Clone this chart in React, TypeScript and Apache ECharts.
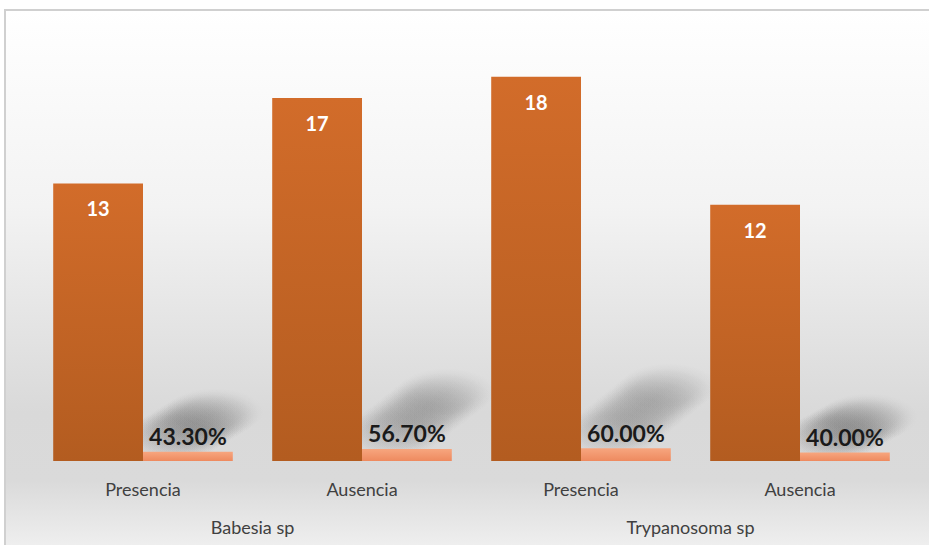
import React, { useEffect, useRef } from "react";
import * as echarts from "echarts";

const categories = ["Presencia", "Ausencia", "Presencia", "Ausencia"];
const groups = ["Babesia sp", "Trypanosoma sp"];
const counts = [13, 17, 18, 12];
const percents = [0.433, 0.567, 0.6, 0.4];

const FONT = "Lato, 'Open Sans', sans-serif";

export default function App() {
  const ref = useRef<HTMLDivElement>(null);
  useEffect(() => {
    const chart = echarts.init(ref.current!, undefined, { renderer: "svg" });
    const option: any = {
      animation: false,
      textStyle: { fontFamily: FONT },
      graphic: [
        {
          type: "rect",
          z: -10,
          silent: true,
          shape: { x: 5, y: 10, width: 940, height: 560 },
          style: {
            fill: new echarts.graphic.LinearGradient(0, 0, 0, 1, [
              { offset: 0, color: "#ffffff" },
              { offset: 0.35, color: "#f3f3f3" },
              { offset: 0.72, color: "#d9d9d9" },
              { offset: 0.84, color: "#dadada" },
              { offset: 1, color: "#f6f6f6" },
            ]),
            stroke: "#d0d0d0",
            lineWidth: 2,
          },
        },
      ],
      grid: { left: 33.5, right: 19.5, top: 34, bottom: 84 },
      xAxis: [
        {
          type: "category",
          data: categories,
          axisLine: { show: false },
          axisTick: { show: false },
          axisLabel: { color: "#404040", fontSize: 18, margin: 19, fontFamily: FONT },
        },
        {
          type: "category",
          data: groups,
          position: "bottom",
          offset: 38,
          axisLine: { show: false },
          axisTick: { show: false },
          axisLabel: { color: "#404040", fontSize: 18, margin: 19, fontFamily: FONT },
        },
      ],
      yAxis: { type: "value", min: 0, max: 20, show: false },
      series: [
        {
          type: "custom",
          xAxisIndex: 0,
          z: 1,
          silent: true,
          clip: false,
          data: percents.map((v, i) => [i, v]),
          renderItem: (params: any, api: any) => {
            const idx = api.value(0);
            const val = api.value(1);
            const c = api.coord([idx, val]);
            const base = api.coord([idx, 0]);
            const band = api.size([1, 0])[0];
            const barW = band * 0.41;
            const x0 = c[0];
            const yb = c[1];
            const barH = base[1] - c[1];
            const h = barH * 6.0;
            const dx = h * 0.75;
            const children: any[] = [];
            const n = 10;
            for (let k = 0; k < n; k++) {
              const t = k / (n - 1);
              const cx = x0 + barW * 0.33 + dx * t;
              const cy = yb - 14 - (h - 30) * t;
              const w = barW * 1.1;
              const hh = 48;
              children.push({
                type: "rect",
                shape: { x: cx - w / 2, y: cy - hh / 2, width: w, height: hh },
                style: {
                  fill: new echarts.graphic.RadialGradient(0.5, 0.5, 0.5, [
                    { offset: 0, color: "rgba(105,105,105,0.11)" },
                    { offset: 0.6, color: "rgba(105,105,105,0.08)" },
                    { offset: 1, color: "rgba(105,105,105,0)" },
                  ]),
                },
              });
            }
            return { type: "group", children };
          },
        },
        {
          type: "bar",
          z: 3,
          barWidth: "41%",
          barGap: "0%",
          data: counts,
          itemStyle: {
            color: new echarts.graphic.LinearGradient(0, 0, 0, 1, [
              { offset: 0, color: "#d26c2a" },
              { offset: 1, color: "#b35c20" },
            ]),
          },
          label: {
            show: true,
            position: "insideTop",
            distance: 15,
            color: "#ffffff",
            fontWeight: "bold",
            fontSize: 20,
            fontFamily: FONT,
          },
        },
        {
          type: "bar",
          z: 3,
          barWidth: "41%",
          barGap: "0%",
          data: percents,
          itemStyle: {
            color: new echarts.graphic.LinearGradient(0, 0, 0, 1, [
              { offset: 0, color: "#f7a67f" },
              { offset: 1, color: "#ee8a5f" },
            ]),
          },
          label: {
            show: true,
            position: "top",
            distance: 4,
            color: "#1a1a1a",
            fontWeight: "bold",
            fontSize: 23,
            fontFamily: FONT,
            formatter: (p: any) => (p.value * 100).toFixed(2) + "%",
          },
        },
      ],
    };
    chart.setOption(option);
    return () => chart.dispose();
  }, []);
  return (
    <div
      ref={ref}
      style={{ position: "absolute", left: 0, top: 0, width: 929, height: 545 }}
    />
  );
}
